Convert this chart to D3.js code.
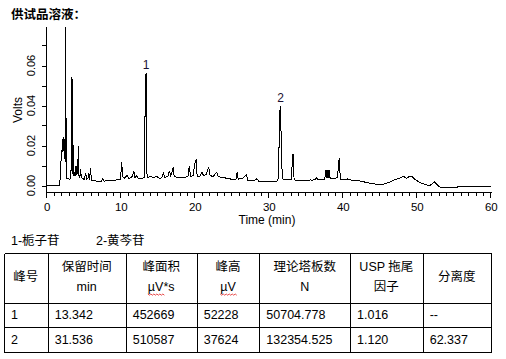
<!DOCTYPE html>
<html><head><meta charset="utf-8">
<script src="https://cdn.jsdelivr.net/npm/d3@7"></script>
<style>
html,body{margin:0;padding:0;background:#fff;}
svg{display:block;}
text{font-family:"Liberation Sans",Arial,"Noto Sans CJK SC",sans-serif;fill:#000;}
</style></head><body>
<svg id="c" width="506" height="359"></svg>
<script>
// ---------------- data ----------------
const chartTitle = "供试品溶液：";
const xLabel = "Time (min)";
const yLabel = "Volts";
const xMajorTicks = [0, 10, 20, 30, 40, 50, 60];
const yTicks = [0, 0.01, 0.02, 0.03, 0.04, 0.05, 0.06, 0.07];
const yLabelledTicks = [0, 0.02, 0.04, 0.06];

const traceTime = [
  0, 1.65, 1.75, 1.85, 1.95, 2.0, 2.05, 2.1, 2.15, 2.2, 2.25, 2.3, 2.35, 2.4, 2.47, 2.55, 2.65, 2.9, 3.0, 3.2,
  3.28, 3.36, 3.42, 3.5, 3.7, 3.82, 3.88, 3.95, 4.0, 4.05, 4.1, 4.2, 4.28, 4.4, 4.5, 4.6, 4.8, 5.0, 5.2, 5.3,
  5.5, 5.6, 5.7, 5.85, 5.95, 6.3, 6.8, 7.3, 7.5, 7.7, 8.5, 9.0, 9.5, 9.9, 10.05, 10.2, 10.4, 10.6, 10.8, 11.0,
  11.4, 11.7, 11.85, 12.1, 12.3, 12.8, 13.1, 13.25, 13.34, 13.45, 13.55, 14.0, 14.3, 14.8, 15.2, 15.5, 15.7, 15.85, 16.3, 16.5,
  16.65, 16.8, 17.0, 17.15, 17.5, 18.0, 18.5, 19.0, 19.2, 19.35, 19.7, 19.9, 20.1, 20.25, 20.6, 20.9, 21.1, 21.5, 21.8, 22.0,
  22.4, 22.9, 23.1, 23.5, 24.0, 24.5, 25.0, 25.5, 25.65, 25.8, 26.4, 26.9, 27.1, 27.5, 28.0, 28.3, 28.6, 29.3, 30.0, 30.6,
  31.0, 31.25, 31.38, 31.5, 31.62, 31.75, 31.9, 32.5, 33.0, 33.12, 33.22, 33.35, 33.6, 34.5, 35.4, 35.55, 35.7, 36.2, 36.4, 36.6,
  37.5, 37.6, 37.7, 37.75, 37.8, 37.85, 37.9, 37.95, 38.0, 38.05, 38.1, 38.15, 38.2, 38.3, 38.8, 39.2, 39.45, 39.6, 40.0, 40.4,
  40.6, 40.8, 41.9, 42.8, 43.7, 45.0, 45.7, 46.4, 47.0, 47.5, 47.8, 48.1, 48.5, 49.05, 49.3, 49.7, 50.4, 51.3, 51.7, 52.0,
  52.3, 52.7, 53.1, 55.4, 55.45, 60
];
const traceVolts = [
  0, 0, 0.004, 0.012, 0.0175, 0.017, 0.023, 0.018, 0.0235, 0.0175, 0.024, 0.019, 0.022, 0.012, 0.11, 0.006, 0.0035, 0.0035, 0.003, 0.004,
  0.054, 0.006, 0.053, 0.005, 0.005, 0.0095, 0.005, 0.0095, 0.006, 0.012, 0.006, 0.0195, 0.005, 0.004, 0.008, 0.004, 0.0035, 0.003, 0.0064, 0.003,
  0.0035, 0.006, 0.003, 0.0088, 0.0025, 0.0025, 0.002, 0.0022, 0.0035, 0.0022, 0.0025, 0.0025, 0.003, 0.003, 0.0115, 0.0045, 0.0035, 0.0045, 0.005, 0.0035,
  0.004, 0.007, 0.004, 0.005, 0.0035, 0.0035, 0.004, 0.048, 0.056, 0.006, 0.004, 0.0045, 0.004, 0.0045, 0.0035, 0.004, 0.0066, 0.004, 0.0045, 0.0074,
  0.005, 0.006, 0.0091, 0.0045, 0.0042, 0.0042, 0.004, 0.0045, 0.0098, 0.0045, 0.005, 0.0105, 0.013, 0.0045, 0.0045, 0.0068, 0.005, 0.0055, 0.0093, 0.005,
  0.0045, 0.0066, 0.0045, 0.004, 0.0038, 0.0035, 0.003, 0.003, 0.0066, 0.0032, 0.0035, 0.0055, 0.0025, 0.0024, 0.0024, 0.0034, 0.002, 0.0019, 0.002, 0.0019,
  0.002, 0.004, 0.035, 0.0396, 0.022, 0.004, 0.0028, 0.0028, 0.003, 0.014, 0.0158, 0.003, 0.0025, 0.0025, 0.0025, 0.003, 0.0025, 0.003, 0.0039, 0.003,
  0.003, 0.0078, 0.004, 0.0078, 0.004, 0.0078, 0.004, 0.0078, 0.004, 0.0078, 0.004, 0.0078, 0.004, 0.0033, 0.0033, 0.004, 0.0139, 0.003, 0.0028, 0.003,
  0.0033, 0.0028, 0.0025, 0.0018, 0.0011, 0.0003, 0.001, 0.0019, 0.003, 0.0036, 0.0038, 0.0047, 0.0036, 0.0047, 0.0044, 0.003, 0.0014, 0.0003, 0, 0.0008,
  0.0019, 0.0003, -0.0009, -0.0009, -0.0003, -0.0003
];

const peakNames = ["1", "2"];
const peakTimes = [13.342, 31.536];
const peakTops = [0.056, 0.0396];

const legendItems = ["1-栀子苷", "2-黄芩苷"];
const tableHeader = [["峰号"], ["保留时间", "min"], ["峰面积", "µV*s"], ["峰高", "µV"], ["理论塔板数", "N"], ["USP 拖尾", "因子"], ["分离度"]];
const tableRows = [
  ["1", "13.342", "452669", "52228", "50704.778", "1.016", "--"],
  ["2", "31.536", "510587", "37624", "132354.525", "1.120", "62.337"]
];

// ---------------- layout ----------------
const svg = d3.select("#c");
const x = d3.scaleLinear().domain([0, 60]).range([47.3, 491.3]);
const y = d3.scaleLinear().domain([-0.00325, 0.07925]).range([192, 27]);
const axX = 46.5, axY = 192.5;

// title
svg.append("text").attr("x", 11).attr("y", 19)
  .style("font-family", "'Noto Sans CJK SC',sans-serif").style("font-weight", "bold").style("font-size", "12.5px")
  .text(chartTitle);

// clip
svg.append("clipPath").attr("id", "pc").append("rect")
  .attr("x", x(0) - 1).attr("y", y.range()[1]).attr("width", x(60) - x(0) + 2).attr("height", y.range()[0] - y.range()[1]);

// trace
const pts = traceTime.map((t, i) => [t, traceVolts[i]]);
svg.append("path").datum(pts)
  .attr("clip-path", "url(#pc)")
  .attr("fill", "none").attr("stroke", "#000").attr("stroke-width", 1)
  .attr("shape-rendering", "crispEdges")
  .attr("d", d3.line().x(d => x(d[0])).y(d => y(d[1])));

// y axis
const g = svg.append("g").attr("shape-rendering", "crispEdges").attr("stroke", "#000");
g.append("line").attr("x1", axX).attr("x2", axX).attr("y1", y.range()[1]).attr("y2", axY);
yTicks.forEach(v => {
  const yy = Math.round(y(v)) + 0.5;
  g.append("line").attr("x1", axX - 5).attr("x2", axX).attr("y1", yy).attr("y2", yy);
});
yLabelledTicks.forEach(v => {
  svg.append("text").attr("transform", `translate(35,${y(v)}) rotate(-90)`)
    .attr("text-anchor", "middle").style("font-size", "11px").text(d3.format(".2f")(v));
});
svg.append("text").attr("transform", `translate(22,110) rotate(-90)`)
  .attr("text-anchor", "middle").style("font-size", "12px").text(yLabel);

// x axis
g.append("line").attr("x1", axX).attr("x2", x(60) + 0.5).attr("y1", axY).attr("y2", axY);
d3.range(0, 61, 1).forEach(t => {
  const xx = Math.round(x(t)) - 0.5;
  const major = xMajorTicks.includes(t);
  g.append("line").attr("x1", xx).attr("x2", xx).attr("y1", axY).attr("y2", axY + (major ? 5 : 3));
});
xMajorTicks.forEach(t => {
  svg.append("text").attr("x", x(t)).attr("y", 211).attr("text-anchor", "middle")
    .style("font-size", "11.5px").text(t);
});
svg.append("text").attr("x", 267).attr("y", 224).attr("text-anchor", "middle")
  .style("font-size", "12px").text(xLabel);

// peak labels
peakNames.forEach((n, i) => {
  svg.append("text").attr("x", x(peakTimes[i])).attr("y", y(peakTops[i]) - 4.5)
    .attr("text-anchor", "middle").style("font-size", "12px").style("fill", "#1a1030").text(n);
});

// legend
const legX = [11, 96];
legendItems.forEach((s, i) => {
  svg.append("text").attr("x", legX[i]).attr("y", 245).style("font-size", "12.5px").text(s);
});

// table
const colEdges = [4, 47.7, 125.7, 196.7, 259.3, 350, 422.7, 490.7];
const rowEdges = [253.3, 302.7, 327.3, 352.3];
const tg = svg.append("g").attr("shape-rendering", "crispEdges").attr("stroke", "#000").attr("stroke-width", 1);
colEdges.forEach(cx => {
  const xx = Math.round(cx) + 0.5;
  tg.append("line").attr("x1", xx).attr("x2", xx).attr("y1", Math.round(rowEdges[0]) + 0.5).attr("y2", Math.round(rowEdges[3]) + 0.5);
});
rowEdges.forEach(ry => {
  const yy = Math.round(ry) + 0.5;
  tg.append("line").attr("x1", Math.round(colEdges[0]) + 0.5).attr("x2", Math.round(colEdges[7]) + 0.5).attr("y1", yy).attr("y2", yy);
});

tableHeader.forEach((lines, ci) => {
  const cx = (colEdges[ci] + colEdges[ci + 1]) / 2;
  const baselines = lines.length === 1 ? [281] : [271, 291];
  lines.forEach((s, li) => {
    const t = svg.append("text").attr("x", cx).attr("y", baselines[li]).attr("text-anchor", "middle")
      .style("font-size", "12.5px").text(s);
    if (s.startsWith("µV")) {
      const node = t.node();
      const start = node.getStartPositionOfChar(0).x;
      const len = node.getSubStringLength(0, 2);
      const by = baselines[li] + 3;
      let d = `M${start},${by}`;
      for (let k = 0, px = start; px < start + len; k++) {
        px += 1.5;
        d += `L${px},${by + (k % 2 ? 0 : 1.2)}`;
      }
      svg.append("path").attr("d", d).attr("fill", "none").attr("stroke", "#e02020").attr("stroke-width", 0.8);
    }
  });
});
tableRows.forEach((row, ri) => {
  const by = ri === 0 ? 319 : 343.5;
  row.forEach((s, ci) => {
    svg.append("text").attr("x", colEdges[ci] + 7).attr("y", by).style("font-size", "12.5px").text(s);
  });
});
</script>
</body></html>
